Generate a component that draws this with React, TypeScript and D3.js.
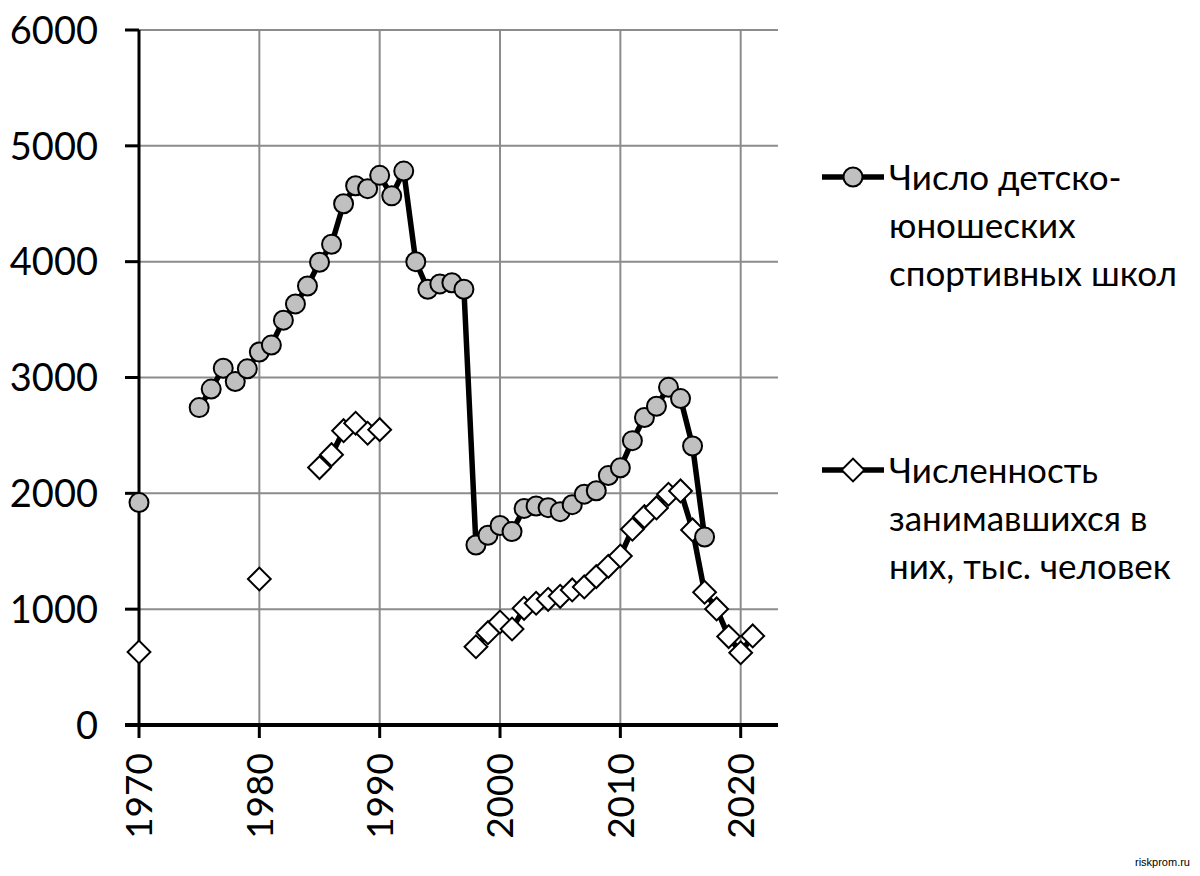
import { useEffect, useRef } from "react";
import * as d3 from "d3";

// Годы и значения (null — нет данных)
const years = d3.range(1970, 2022);

const schools: (number | null)[] = [
  1920, null, null, null, null, // 1970-1974
  2740, 2900, 3080, 2965, 3075, // 1975-1979
  3220, 3280, 3495, 3635, 3790, // 1980-1984
  3995, 4150, 4500, 4655, 4630, // 1985-1989
  4745, 4568, 4782, 4000, 3762, // 1990-1994
  3808, 3818, 3762, 1554, 1638, // 1995-1999
  1722, 1670, 1870, 1891, 1876, // 2000-2004
  1842, 1902, 1993, 2022, 2153, // 2005-2009
  2220, 2455, 2655, 2752, 2915, // 2010-2014
  2818, 2409, 1623, null, null, // 2015-2019
  null, null,                   // 2020-2021
];

const pupils: (number | null)[] = [
  630, null, null, null, null,  // 1970-1974
  null, null, null, null, null, // 1975-1979
  1260, null, null, null, null, // 1980-1984
  2222, 2334, 2541, 2605, 2519, // 1985-1989
  2550, null, null, null, null, // 1990-1994
  null, null, null, 676, 797,   // 1995-1999
  889, 829, 1007, 1051, 1085,   // 2000-2004
  1111, 1166, 1192, 1281, 1370, // 2005-2009
  1459, 1690, 1799, 1874, 1992, // 2010-2014
  2021, 1684, 1146, 1002, 763,  // 2015-2019
  624, 769,                     // 2020-2021
];

const yTicks = [0, 1000, 2000, 3000, 4000, 5000, 6000];
const xTicks = [1970, 1980, 1990, 2000, 2010, 2020];

const legendSchools = ["Число детско-", "юношеских", "спортивных школ"];
const legendPupils = ["Численность", "занимавшихся в", "них, тыс. человек"];

const W = 1200;
const H = 876;
const FONT = "Lato, 'Open Sans', sans-serif";

export default function App() {
  const ref = useRef<SVGSVGElement>(null);

  useEffect(() => {
    if (!ref.current) return;
    const svg = d3.select(ref.current);
    svg.selectAll("*").remove();

    const x = d3.scaleLinear().domain([1970, 2023.1]).range([139, 778]);
    const y = d3.scaleLinear().domain([0, 6000]).range([725, 30]);

    svg.append("rect").attr("width", W).attr("height", H).attr("fill", "#fff");

    // сетка
    const grid = svg.append("g");
    grid.selectAll(".hg")
      .data(yTicks.filter(d => d > 0))
      .enter()
      .append("line")
      .attr("x1", x(1970))
      .attr("x2", x.range()[1])
      .attr("y1", d => y(d))
      .attr("y2", d => y(d))
      .attr("stroke", "#8c8c8c")
      .attr("stroke-width", 2);
    grid.selectAll(".vg")
      .data(xTicks.filter(d => d > 1970))
      .enter()
      .append("line")
      .attr("x1", d => x(d))
      .attr("x2", d => x(d))
      .attr("y1", y(6000))
      .attr("y2", y(0))
      .attr("stroke", "#8c8c8c")
      .attr("stroke-width", 2);

    // ось Y
    svg.append("line")
      .attr("x1", x(1970)).attr("x2", x(1970))
      .attr("y1", y(6000)).attr("y2", y(0))
      .attr("stroke", "#000").attr("stroke-width", 3);
    svg.selectAll(".yt")
      .data(yTicks)
      .enter()
      .append("line")
      .attr("x1", x(1970) - 14)
      .attr("x2", x(1970))
      .attr("y1", d => y(d))
      .attr("y2", d => y(d))
      .attr("stroke", "#000")
      .attr("stroke-width", 3);
    svg.selectAll(".yl")
      .data(yTicks)
      .enter()
      .append("text")
      .attr("x", 98)
      .attr("y", d => y(d))
      .attr("dy", "0.36em")
      .attr("text-anchor", "end")
      .style("font-family", FONT)
      .style("font-size", "38px")
      .attr("fill", "#000")
      .text(d => d);

    // ось X
    svg.append("line")
      .attr("x1", x(1970) - 14).attr("x2", x.range()[1])
      .attr("y1", y(0)).attr("y2", y(0))
      .attr("stroke", "#000").attr("stroke-width", 4);
    svg.selectAll(".xt")
      .data(xTicks)
      .enter()
      .append("line")
      .attr("x1", d => x(d))
      .attr("x2", d => x(d))
      .attr("y1", y(0))
      .attr("y2", y(0) + 13)
      .attr("stroke", "#000")
      .attr("stroke-width", 3);
    svg.selectAll(".xl")
      .data(xTicks)
      .enter()
      .append("text")
      .attr("transform", d => `translate(${x(d)},${753}) rotate(-90)`)
      .attr("dy", "0.36em")
      .attr("text-anchor", "end")
      .style("font-family", FONT)
      .style("font-size", "37px")
      .attr("fill", "#000")
      .text(d => d);

    // линии
    const pts = (vals: (number | null)[]) => years.map((yr, i) => ({ yr, v: vals[i] }));
    const line = d3.line<{ yr: number; v: number | null }>()
      .defined(d => d.v !== null)
      .x(d => x(d.yr))
      .y(d => y(d.v as number));

    const diamond = d3.symbol().type(d3.symbolSquare).size(260);

    [schools, pupils].forEach(vals => {
      svg.append("path")
        .datum(pts(vals))
        .attr("d", line)
        .attr("fill", "none")
        .attr("stroke", "#000")
        .attr("stroke-width", 5.5)
        .attr("stroke-linejoin", "round");
    });

    svg.append("g")
      .selectAll("path")
      .data(pts(pupils).filter(d => d.v !== null))
      .enter()
      .append("path")
      .attr("d", diamond)
      .attr("transform", d => `translate(${x(d.yr)},${y(d.v as number)}) rotate(45)`)
      .attr("fill", "#fff")
      .attr("stroke", "#000")
      .attr("stroke-width", 2);

    svg.append("g")
      .selectAll("circle")
      .data(pts(schools).filter(d => d.v !== null))
      .enter()
      .append("circle")
      .attr("cx", d => x(d.yr))
      .attr("cy", d => y(d.v as number))
      .attr("r", 9.5)
      .attr("fill", "#c0c0c0")
      .attr("stroke", "#000")
      .attr("stroke-width", 2);

    // легенда
    const legend = (top: number, lines: string[], kind: "circle" | "diamond") => {
      const g = svg.append("g");
      g.append("line")
        .attr("x1", 822).attr("x2", 884)
        .attr("y1", top).attr("y2", top)
        .attr("stroke", "#000").attr("stroke-width", 5.5);
      if (kind === "circle") {
        g.append("circle")
          .attr("cx", 853).attr("cy", top).attr("r", 9.5)
          .attr("fill", "#c0c0c0").attr("stroke", "#000").attr("stroke-width", 2);
      } else {
        g.append("path")
          .attr("d", diamond)
          .attr("transform", `translate(853,${top}) rotate(45)`)
          .attr("fill", "#fff").attr("stroke", "#000").attr("stroke-width", 2);
      }
      g.selectAll("text")
        .data(lines)
        .enter()
        .append("text")
        .attr("x", 889)
        .attr("y", (d, i) => top + i * 48)
        .attr("dy", "0.36em")
        .style("font-family", FONT)
        .style("font-size", "35px")
        .attr("fill", "#000")
        .text(d => d);
    };
    legend(177, legendSchools, "circle");
    legend(470, legendPupils, "diamond");

    svg.append("text")
      .attr("x", 1190)
      .attr("y", 866)
      .attr("text-anchor", "end")
      .style("font-family", "'Liberation Sans Narrow', Arial, sans-serif")
      .style("font-size", "11px")
      .attr("fill", "#000")
      .text("riskprom.ru");
  }, []);

  return (
    <svg
      ref={ref}
      width={W}
      height={H}
      viewBox={`0 0 ${W} ${H}`}
      style={{ position: "absolute", left: 0, top: 0 }}
    />
  );
}
